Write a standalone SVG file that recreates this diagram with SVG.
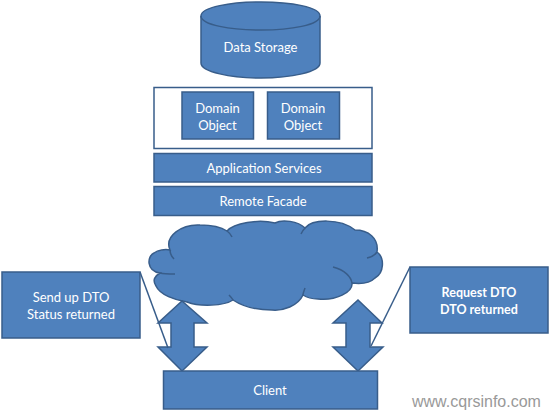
<svg xmlns="http://www.w3.org/2000/svg" width="550" height="412" viewBox="0 0 550 412">
<style>
.s{fill:#4f81bd;stroke:#385d8a;stroke-width:1.5}
.l{fill:none;stroke:#385d8a;stroke-width:1.5}
.t{font-family:Lato,"Liberation Sans",sans-serif;font-size:13px;fill:#fff;text-anchor:middle}
.b{font-weight:700;font-size:12.500px}
</style>
<rect width="550" height="412" fill="#fff"/>
<g id="data-storage">
<path class="s" d="M201 16C201 7 231 2 261 2S320 7 320 16V63C320 72 291 78 261 78S201 72 201 63Z"/>
<path class="l" d="M201 16C201 25 231 30 261 30S320 25 320 16"/>
<text class="t" x="260.500" y="52">Data Storage</text>
</g>
<g id="domain-container"><rect x="154" y="87.500" width="218" height="61" fill="#fff" stroke="#385d8a" stroke-width="1.500"/></g>
<g id="domain-object-1"><rect class="s" x="182" y="92" width="71.500" height="47"/><text class="t" x="217.500" y="112.500">Domain</text><text class="t" x="217.500" y="130">Object</text></g>
<g id="domain-object-2"><rect class="s" x="267.500" y="92" width="72" height="47"/><text class="t" x="303" y="112.500">Domain</text><text class="t" x="303" y="130">Object</text></g>
<g id="application-services"><rect class="s" x="154" y="153.500" width="218" height="28.500"/><text class="t" x="264" y="172.500">Application Services</text></g>
<g id="remote-facade"><rect class="s" x="154" y="186.500" width="218" height="29"/><text class="t" x="263" y="205.500">Remote Facade</text></g>
<g id="cloud">
<path class="s" d="M170 250C164 236 182 224 200 225C210 225 221 227 227 231C234 223 258 219 275 223C282 219 298 221 305 228C312 219 340 218 355 230C368 230 379 238 377 252C385 258 384 273 375 278C369 284 360 284 352 283C353 292 336 301 318 299C312 299 306 297 303 295C298 306 283 311 272 310C262 310 245 308 233 300C224 306 200 307 187 302C175 300 160 295 156 286C152 280 155 276 160 273C146 271 147 256 154 253C158 250 165 249 170 250Z"/>
<path class="l" d="M170 250C170 254 172 257 174 259M160 273C164 274 169 274 175 274M227 231C230 233 231 235 232 237M305 228C303 230 302 232 301 234M377 252C375 255 372 257 367 258M333 267C345 270 351 277 352 283M303 295C303 293 304 291 305 288M233 300C232 298 231 297 229 295"/>
</g>
<g id="connectors">
<path class="s" d="M182 301L207 323H194V347H207L182 371L158 347H171V323H158Z"/>
<path class="s" d="M358 300L382 323H370V347H383L358 371L333 347H346V323H333Z"/>
</g>
<g id="client"><rect class="s" x="163.500" y="371" width="214" height="38"/><text class="t" x="270" y="395">Client</text></g>
<g id="callout-left">
<rect class="s" x="2" y="272" width="138" height="66"/>
<path class="l" d="M140 272L168 348"/>
<text class="t" x="71" y="302">Send up DTO</text><text class="t" x="71" y="319">Status returned</text>
</g>
<g id="callout-right">
<rect class="s" x="410" y="267" width="138" height="66"/>
<path class="l" d="M410 267L371 346"/>
<text class="t b" x="479" y="297">Request DTO</text><text class="t b" x="479" y="314">DTO returned</text>
</g>
<text id="watermark" x="412" y="407" font-family="'Liberation Sans',Arial,sans-serif" font-size="16" fill="#999">www.cqrsinfo.com</text>
</svg>
